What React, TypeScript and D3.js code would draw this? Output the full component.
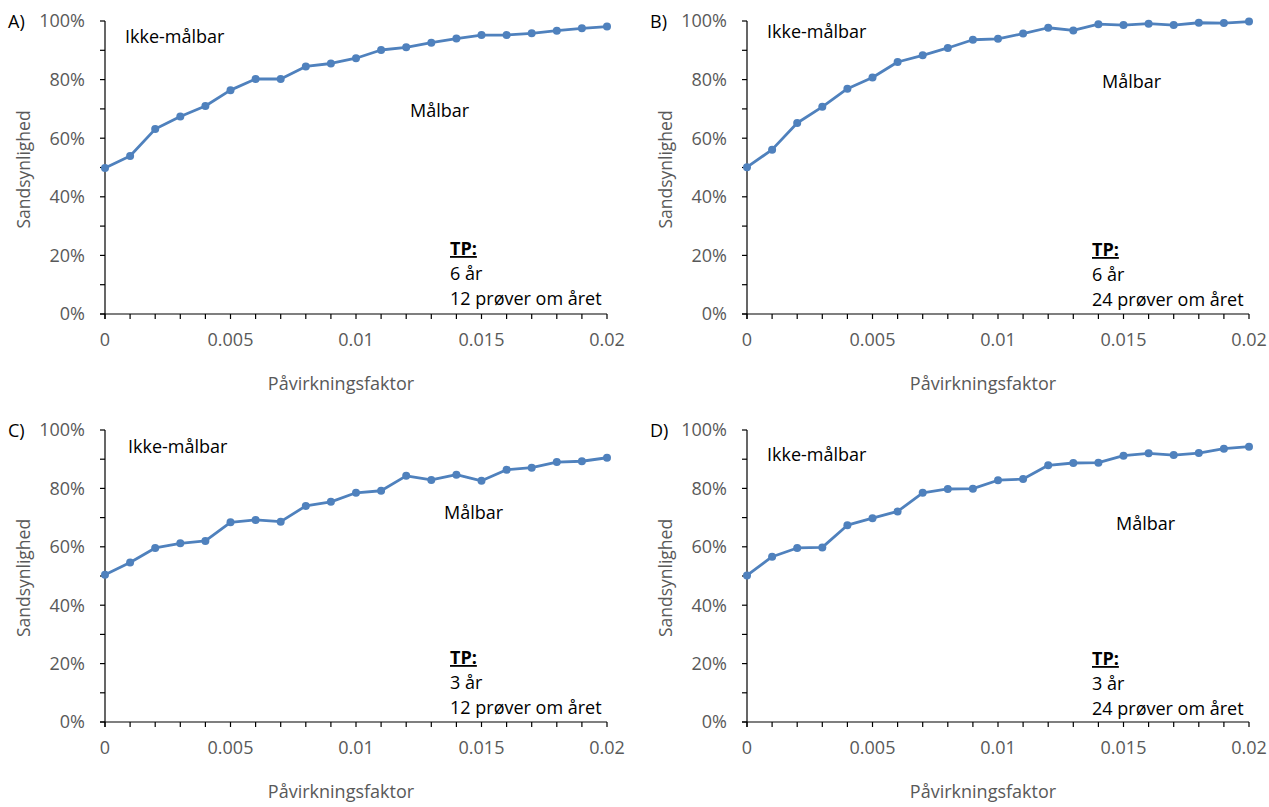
import React, { useEffect, useRef } from "react";
import * as d3 from "d3";

// x values (påvirkningsfaktor)
const factors = [
  0, 0.001, 0.002, 0.003, 0.004, 0.005, 0.006, 0.007, 0.008, 0.009, 0.01,
  0.011, 0.012, 0.013, 0.014, 0.015, 0.016, 0.017, 0.018, 0.019, 0.02,
];

// sandsynlighed
const probA = [
  0.498, 0.539, 0.631, 0.674, 0.71, 0.764, 0.802, 0.802, 0.845, 0.855, 0.873,
  0.901, 0.91, 0.926, 0.94, 0.952, 0.952, 0.958, 0.967, 0.975, 0.981,
];
const probB = [
  0.501, 0.561, 0.652, 0.707, 0.769, 0.807, 0.86, 0.883, 0.908, 0.936, 0.939,
  0.957, 0.977, 0.968, 0.989, 0.986, 0.991, 0.986, 0.994, 0.993, 0.998,
];
const probC = [
  0.504, 0.546, 0.596, 0.612, 0.62, 0.684, 0.692, 0.686, 0.74, 0.754, 0.785,
  0.792, 0.843, 0.829, 0.847, 0.826, 0.864, 0.871, 0.89, 0.893, 0.905,
];
const probD = [
  0.502, 0.566, 0.596, 0.598, 0.674, 0.698, 0.721, 0.785, 0.798, 0.799, 0.828,
  0.832, 0.879, 0.887, 0.888, 0.912, 0.92, 0.914, 0.921, 0.936, 0.943,
];

const panelLabels = ["A)", "B)", "C)", "D)"];
const yearsText = ["6 år", "6 år", "3 år", "3 år"];
const samplesText = [
  "12 prøver om året",
  "24 prøver om året",
  "12 prøver om året",
  "24 prøver om året",
];
const xTickLabels = [0, 0.005, 0.01, 0.015, 0.02];
const yTickLabels = [0, 0.2, 0.4, 0.6, 0.8, 1];
const yMinorTicks = [0, 0.1, 0.2, 0.3, 0.4, 0.5, 0.6, 0.7, 0.8, 0.9, 1];

const series = [probA, probB, probC, probD];

// plot boxes and annotation spots (pixels)
const layout = [
  { left: 105, right: 607, top: 21, bottom: 314, ikke: [125, 43], maal: [410, 117], tp: [450, 255] },
  { left: 747, right: 1249, top: 21, bottom: 314, ikke: [767, 38], maal: [1102, 88], tp: [1092, 256] },
  { left: 105, right: 607, top: 430, bottom: 722, ikke: [128, 453], maal: [444, 519], tp: [450, 664] },
  { left: 747, right: 1249, top: 430, bottom: 722, ikke: [767, 461], maal: [1116, 530], tp: [1092, 665] },
];

const FONT = "'Open Sans', 'Noto Sans', sans-serif";
const GREY = "#595959";
const BLUE = "#4f81bd";

function App() {
  const svgRef = useRef(null);

  useEffect(() => {
    const svg = d3.select(svgRef.current);
    svg.selectAll("*").remove();

    series.forEach((values, i) => {
      const box = layout[i];
      const g = svg.append("g");

      const xScale = d3.scaleLinear().domain([0, 0.02]).range([box.left, box.right]);
      const yScale = d3.scaleLinear().domain([0, 1]).range([box.bottom, box.top]);

      // y axis line + ticks
      g.append("line")
        .attr("x1", box.left).attr("x2", box.left)
        .attr("y1", box.top).attr("y2", box.bottom + 5)
        .attr("stroke", "#000").attr("stroke-width", 1.2);
      g.selectAll(".ytick")
        .data(yMinorTicks)
        .enter()
        .append("line")
        .attr("x1", box.left - 5).attr("x2", box.left)
        .attr("y1", (d) => yScale(d)).attr("y2", (d) => yScale(d))
        .attr("stroke", "#000").attr("stroke-width", 1.2);
      g.selectAll(".ylab")
        .data(yTickLabels)
        .enter()
        .append("text")
        .attr("x", box.left - 20)
        .attr("y", (d) => yScale(d))
        .attr("dy", "0.35em")
        .attr("text-anchor", "end")
        .attr("font-family", FONT).attr("font-size", 18).attr("fill", GREY)
        .text((d) => d3.format(".0%")(d));

      // x axis line + ticks
      g.append("line")
        .attr("x1", box.left - 5).attr("x2", box.right)
        .attr("y1", box.bottom).attr("y2", box.bottom)
        .attr("stroke", "#000").attr("stroke-width", 1.2);
      g.selectAll(".xtick")
        .data(factors)
        .enter()
        .append("line")
        .attr("x1", (d) => xScale(d)).attr("x2", (d) => xScale(d))
        .attr("y1", box.bottom).attr("y2", box.bottom + 5)
        .attr("stroke", "#000").attr("stroke-width", 1.2);
      g.selectAll(".xlab")
        .data(xTickLabels)
        .enter()
        .append("text")
        .attr("x", (d) => xScale(d))
        .attr("y", box.bottom + 26)
        .attr("dy", "0.35em")
        .attr("text-anchor", "middle")
        .attr("font-family", FONT).attr("font-size", 18).attr("fill", GREY)
        .text((d) => String(d));

      // axis titles
      g.append("text")
        .attr("x", box.left + 236)
        .attr("y", box.bottom + 76)
        .attr("text-anchor", "middle")
        .attr("font-family", FONT).attr("font-size", 18).attr("fill", GREY)
        .text("Påvirkningsfaktor");
      g.append("text")
        .attr("transform", `translate(${box.left - 75},${(box.top + box.bottom) / 2 + 2}) rotate(-90)`)
        .attr("text-anchor", "middle")
        .attr("font-family", FONT).attr("font-size", 17.5).attr("fill", GREY)
        .text("Sandsynlighed");

      // panel letter
      g.append("text")
        .attr("x", box.left - 97)
        .attr("y", box.top + 7)
        .attr("font-family", FONT).attr("font-size", 18).attr("fill", "#000")
        .text(panelLabels[i]);

      // the line
      const line = d3
        .line()
        .x((d, j) => xScale(factors[j]))
        .y((d) => yScale(d));
      g.append("path")
        .attr("d", line(values))
        .attr("fill", "none")
        .attr("stroke", BLUE)
        .attr("stroke-width", 2.8)
        .attr("stroke-linejoin", "round");
      g.selectAll(".pt")
        .data(values)
        .enter()
        .append("circle")
        .attr("cx", (d, j) => xScale(factors[j]))
        .attr("cy", (d) => yScale(d))
        .attr("r", 4)
        .attr("fill", BLUE);

      // annotations
      g.append("text")
        .attr("x", box.ikke[0]).attr("y", box.ikke[1])
        .attr("font-family", FONT).attr("font-size", 18).attr("fill", "#000")
        .text("Ikke-målbar");
      g.append("text")
        .attr("x", box.maal[0]).attr("y", box.maal[1])
        .attr("font-family", FONT).attr("font-size", 18).attr("fill", "#000")
        .text("Målbar");
      const tp = g.append("text")
        .attr("font-family", FONT).attr("font-size", 18).attr("fill", "#000");
      tp.append("tspan")
        .attr("x", box.tp[0]).attr("y", box.tp[1])
        .attr("font-weight", "bold")
        .attr("text-decoration", "underline")
        .text("TP:");
      tp.append("tspan")
        .attr("x", box.tp[0]).attr("y", box.tp[1] + 25)
        .text(yearsText[i]);
      tp.append("tspan")
        .attr("x", box.tp[0]).attr("y", box.tp[1] + 50)
        .text(samplesText[i]);
    });
  }, []);

  return (
    <svg
      ref={svgRef}
      width={1269}
      height={807}
      style={{ position: "absolute", left: 0, top: 0, background: "#fff" }}
    />
  );
}

export default App;
